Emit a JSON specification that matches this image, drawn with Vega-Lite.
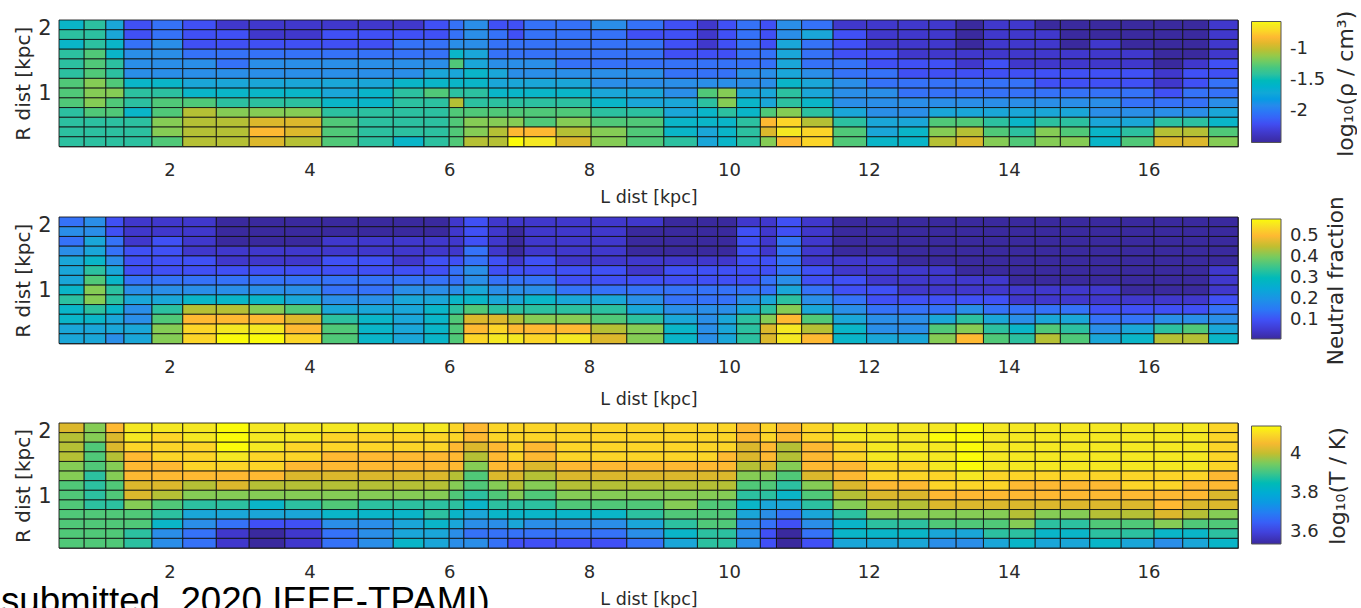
{"$schema":"https://vega.github.io/schema/vega-lite/v6.json","padding":{"left":0,"top":9,"right":0,"bottom":0},"background":"white","spacing":-12,"resolve":{"scale":{"color":"independent"},"legend":{"color":"independent"}},"config":{"view":{"stroke":"#555","strokeWidth":1},"font":"DejaVu Sans","axis":{"grid":false,"domain":false,"ticks":false,"labelColor":"#2a2a2a","titleColor":"#2a2a2a","titleFontWeight":"normal","labelFont":"DejaVu Sans","titleFont":"DejaVu Sans"},"legend":{"labelColor":"#2a2a2a","labelFont":"DejaVu Sans"}},"datasets":{"cols":[{"c":0,"l0":0.42,"l1":0.78},{"c":1,"l0":0.78,"l1":1.09},{"c":2,"l0":1.09,"l1":1.35},{"c":3,"l0":1.35,"l1":1.75},{"c":4,"l0":1.75,"l1":2.19},{"c":5,"l0":2.19,"l1":2.67},{"c":6,"l0":2.67,"l1":3.14},{"c":7,"l0":3.14,"l1":3.65},{"c":8,"l0":3.65,"l1":4.18},{"c":9,"l0":4.18,"l1":4.7},{"c":10,"l0":4.7,"l1":5.2},{"c":11,"l0":5.2,"l1":5.64},{"c":12,"l0":5.64,"l1":6},{"c":13,"l0":6,"l1":6.21},{"c":14,"l0":6.21,"l1":6.56},{"c":15,"l0":6.56,"l1":6.84},{"c":16,"l0":6.84,"l1":7.07},{"c":17,"l0":7.07,"l1":7.53},{"c":18,"l0":7.53,"l1":8.03},{"c":19,"l0":8.03,"l1":8.54},{"c":20,"l0":8.54,"l1":9.07},{"c":21,"l0":9.07,"l1":9.55},{"c":22,"l0":9.55,"l1":9.84},{"c":23,"l0":9.84,"l1":10.11},{"c":24,"l0":10.11,"l1":10.45},{"c":25,"l0":10.45,"l1":10.68},{"c":26,"l0":10.68,"l1":11.04},{"c":27,"l0":11.04,"l1":11.49},{"c":28,"l0":11.49,"l1":11.97},{"c":29,"l0":11.97,"l1":12.42},{"c":30,"l0":12.42,"l1":12.86},{"c":31,"l0":12.86,"l1":13.25},{"c":32,"l0":13.25,"l1":13.64},{"c":33,"l0":13.64,"l1":14.01},{"c":34,"l0":14.01,"l1":14.38},{"c":35,"l0":14.38,"l1":14.74},{"c":36,"l0":14.74,"l1":15.16},{"c":37,"l0":15.16,"l1":15.61},{"c":38,"l0":15.61,"l1":16.08},{"c":39,"l0":16.08,"l1":16.49},{"c":40,"l0":16.49,"l1":16.86},{"c":41,"l0":16.86,"l1":17.28}],"rows":[{"r":0,"r0":0.15,"r1":0.3},{"r":1,"r0":0.3,"r1":0.45},{"r":2,"r0":0.45,"r1":0.6},{"r":3,"r0":0.6,"r1":0.75},{"r":4,"r0":0.75,"r1":0.9},{"r":5,"r0":0.9,"r1":1.05},{"r":6,"r0":1.05,"r1":1.2},{"r":7,"r0":1.2,"r1":1.35},{"r":8,"r0":1.35,"r1":1.5},{"r":9,"r0":1.5,"r1":1.65},{"r":10,"r0":1.65,"r1":1.8},{"r":11,"r0":1.8,"r1":1.95},{"r":12,"r0":1.95,"r1":2.1}],"cells":[
{"c":0,"r":12,"a":-1.56,"b":0.14,"t":4.02},{"c":1,"r":12,"a":-1.41,"b":0.19,"t":3.96},{"c":2,"r":12,"a":-1.72,"b":0.1,"t":4.06},{"c":3,"r":12,"a":-2.19,"b":0.05,"t":4.12},{"c":4,"r":12,"a":-2.03,"b":0.05,"t":4.12},{"c":5,"r":12,"a":-2.19,"b":0.05,"t":4.12},{"c":6,"r":12,"a":-2.34,"b":0.01,"t":4.14},{"c":7,"r":12,"a":-2.34,"b":0.01,"t":4.12},{"c":8,"r":12,"a":-2.34,"b":0.01,"t":4.12},{"c":9,"r":12,"a":-2.34,"b":0.01,"t":4.12},{"c":10,"r":12,"a":-2.34,"b":0.01,"t":4.12},{"c":11,"r":12,"a":-2.34,"b":0.01,"t":4.12},{"c":12,"r":12,"a":-2.19,"b":0.01,"t":4.12},{"c":13,"r":12,"a":-2.03,"b":0.05,"t":4.09},{"c":14,"r":12,"a":-1.88,"b":0.1,"t":4.06},{"c":15,"r":12,"a":-2.19,"b":0.05,"t":4.09},{"c":16,"r":12,"a":-2.19,"b":0.05,"t":4.09},{"c":17,"r":12,"a":-2.03,"b":0.05,"t":4.09},{"c":18,"r":12,"a":-2.03,"b":0.05,"t":4.09},{"c":19,"r":12,"a":-1.88,"b":0.05,"t":4.09},{"c":20,"r":12,"a":-2.03,"b":0.05,"t":4.09},{"c":21,"r":12,"a":-2.19,"b":0.01,"t":4.09},{"c":22,"r":12,"a":-2.34,"b":0.01,"t":4.09},{"c":23,"r":12,"a":-2.19,"b":0.01,"t":4.09},{"c":24,"r":12,"a":-2.03,"b":0.05,"t":4.06},{"c":25,"r":12,"a":-2.19,"b":0.05,"t":4.09},{"c":26,"r":12,"a":-1.88,"b":0.1,"t":4.06},{"c":27,"r":12,"a":-2.03,"b":0.05,"t":4.09},{"c":28,"r":12,"a":-2.34,"b":0.01,"t":4.12},{"c":29,"r":12,"a":-2.34,"b":0.01,"t":4.12},{"c":30,"r":12,"a":-2.34,"b":0.01,"t":4.12},{"c":31,"r":12,"a":-2.34,"b":0.01,"t":4.12},{"c":32,"r":12,"a":-2.5,"b":0.01,"t":4.14},{"c":33,"r":12,"a":-2.34,"b":0.01,"t":4.12},{"c":34,"r":12,"a":-2.34,"b":0.01,"t":4.12},{"c":35,"r":12,"a":-2.5,"b":0.01,"t":4.12},{"c":36,"r":12,"a":-2.5,"b":0.01,"t":4.12},{"c":37,"r":12,"a":-2.5,"b":0.01,"t":4.12},{"c":38,"r":12,"a":-2.5,"b":0.01,"t":4.12},{"c":39,"r":12,"a":-2.5,"b":0.01,"t":4.12},{"c":40,"r":12,"a":-2.5,"b":0.01,"t":4.12},{"c":41,"r":12,"a":-2.34,"b":0.01,"t":4.09},
{"c":0,"r":11,"a":-1.41,"b":0.19,"t":3.99},{"c":1,"r":11,"a":-1.41,"b":0.19,"t":3.96},{"c":2,"r":11,"a":-1.72,"b":0.1,"t":4.02},{"c":3,"r":11,"a":-2.19,"b":0.05,"t":4.12},{"c":4,"r":11,"a":-2.03,"b":0.05,"t":4.09},{"c":5,"r":11,"a":-2.19,"b":0.05,"t":4.12},{"c":6,"r":11,"a":-2.19,"b":0.01,"t":4.14},{"c":7,"r":11,"a":-2.34,"b":0.01,"t":4.12},{"c":8,"r":11,"a":-2.34,"b":0.01,"t":4.12},{"c":9,"r":11,"a":-2.19,"b":0.01,"t":4.09},{"c":10,"r":11,"a":-2.19,"b":0.01,"t":4.09},{"c":11,"r":11,"a":-2.19,"b":0.01,"t":4.09},{"c":12,"r":11,"a":-2.19,"b":0.01,"t":4.09},{"c":13,"r":11,"a":-2.03,"b":0.05,"t":4.09},{"c":14,"r":11,"a":-1.88,"b":0.1,"t":4.06},{"c":15,"r":11,"a":-2.03,"b":0.05,"t":4.09},{"c":16,"r":11,"a":-2.19,"b":0.01,"t":4.09},{"c":17,"r":11,"a":-2.03,"b":0.05,"t":4.09},{"c":18,"r":11,"a":-2.03,"b":0.05,"t":4.09},{"c":19,"r":11,"a":-2.03,"b":0.05,"t":4.09},{"c":20,"r":11,"a":-2.19,"b":0.01,"t":4.09},{"c":21,"r":11,"a":-2.19,"b":0.01,"t":4.09},{"c":22,"r":11,"a":-2.34,"b":0.01,"t":4.09},{"c":23,"r":11,"a":-2.19,"b":0.01,"t":4.09},{"c":24,"r":11,"a":-2.03,"b":0.1,"t":4.06},{"c":25,"r":11,"a":-2.19,"b":0.05,"t":4.09},{"c":26,"r":11,"a":-1.88,"b":0.1,"t":4.06},{"c":27,"r":11,"a":-1.72,"b":0.05,"t":4.09},{"c":28,"r":11,"a":-2.19,"b":0.01,"t":4.12},{"c":29,"r":11,"a":-2.34,"b":0.01,"t":4.12},{"c":30,"r":11,"a":-2.34,"b":0.01,"t":4.12},{"c":31,"r":11,"a":-2.34,"b":0.01,"t":4.14},{"c":32,"r":11,"a":-2.5,"b":0.01,"t":4.14},{"c":33,"r":11,"a":-2.34,"b":0.01,"t":4.12},{"c":34,"r":11,"a":-2.34,"b":0.01,"t":4.12},{"c":35,"r":11,"a":-2.34,"b":0.01,"t":4.12},{"c":36,"r":11,"a":-2.5,"b":0.01,"t":4.12},{"c":37,"r":11,"a":-2.5,"b":0.01,"t":4.12},{"c":38,"r":11,"a":-2.5,"b":0.01,"t":4.12},{"c":39,"r":11,"a":-2.5,"b":0.01,"t":4.12},{"c":40,"r":11,"a":-2.5,"b":0.01,"t":4.12},{"c":41,"r":11,"a":-2.34,"b":0.01,"t":4.09},
{"c":0,"r":10,"a":-1.56,"b":0.14,"t":3.99},{"c":1,"r":10,"a":-1.41,"b":0.24,"t":3.92},{"c":2,"r":10,"a":-1.56,"b":0.14,"t":4.02},{"c":3,"r":10,"a":-2.03,"b":0.05,"t":4.09},{"c":4,"r":10,"a":-1.88,"b":0.1,"t":4.09},{"c":5,"r":10,"a":-2.19,"b":0.05,"t":4.09},{"c":6,"r":10,"a":-2.19,"b":0.01,"t":4.14},{"c":7,"r":10,"a":-2.19,"b":0.01,"t":4.12},{"c":8,"r":10,"a":-2.19,"b":0.01,"t":4.09},{"c":9,"r":10,"a":-2.19,"b":0.05,"t":4.09},{"c":10,"r":10,"a":-2.19,"b":0.05,"t":4.09},{"c":11,"r":10,"a":-2.03,"b":0.05,"t":4.09},{"c":12,"r":10,"a":-2.03,"b":0.05,"t":4.09},{"c":13,"r":10,"a":-1.88,"b":0.05,"t":4.06},{"c":14,"r":10,"a":-1.88,"b":0.1,"t":4.02},{"c":15,"r":10,"a":-2.03,"b":0.05,"t":4.06},{"c":16,"r":10,"a":-2.03,"b":0.01,"t":4.09},{"c":17,"r":10,"a":-2.03,"b":0.05,"t":4.06},{"c":18,"r":10,"a":-2.03,"b":0.05,"t":4.09},{"c":19,"r":10,"a":-2.03,"b":0.05,"t":4.09},{"c":20,"r":10,"a":-2.03,"b":0.01,"t":4.09},{"c":21,"r":10,"a":-2.19,"b":0.01,"t":4.09},{"c":22,"r":10,"a":-2.34,"b":0.01,"t":4.09},{"c":23,"r":10,"a":-2.19,"b":0.01,"t":4.09},{"c":24,"r":10,"a":-2.03,"b":0.1,"t":4.02},{"c":25,"r":10,"a":-2.19,"b":0.05,"t":4.06},{"c":26,"r":10,"a":-1.72,"b":0.14,"t":3.99},{"c":27,"r":10,"a":-2.03,"b":0.05,"t":4.06},{"c":28,"r":10,"a":-2.19,"b":0.01,"t":4.09},{"c":29,"r":10,"a":-2.34,"b":0.01,"t":4.12},{"c":30,"r":10,"a":-2.34,"b":0.01,"t":4.12},{"c":31,"r":10,"a":-2.34,"b":0.01,"t":4.12},{"c":32,"r":10,"a":-2.5,"b":0.01,"t":4.14},{"c":33,"r":10,"a":-2.34,"b":0.01,"t":4.12},{"c":34,"r":10,"a":-2.34,"b":0.01,"t":4.12},{"c":35,"r":10,"a":-2.34,"b":0.01,"t":4.12},{"c":36,"r":10,"a":-2.5,"b":0.01,"t":4.12},{"c":37,"r":10,"a":-2.34,"b":0.01,"t":4.12},{"c":38,"r":10,"a":-2.5,"b":0.01,"t":4.12},{"c":39,"r":10,"a":-2.5,"b":0.01,"t":4.12},{"c":40,"r":10,"a":-2.5,"b":0.01,"t":4.12},{"c":41,"r":10,"a":-2.34,"b":0.01,"t":4.09},
{"c":0,"r":9,"a":-1.41,"b":0.19,"t":3.99},{"c":1,"r":9,"a":-1.27,"b":0.24,"t":3.92},{"c":2,"r":9,"a":-1.56,"b":0.14,"t":3.99},{"c":3,"r":9,"a":-1.88,"b":0.1,"t":4.06},{"c":4,"r":9,"a":-1.88,"b":0.1,"t":4.09},{"c":5,"r":9,"a":-2.03,"b":0.05,"t":4.09},{"c":6,"r":9,"a":-2.03,"b":0.05,"t":4.12},{"c":7,"r":9,"a":-2.03,"b":0.05,"t":4.09},{"c":8,"r":9,"a":-2.03,"b":0.05,"t":4.09},{"c":9,"r":9,"a":-2.03,"b":0.05,"t":4.06},{"c":10,"r":9,"a":-2.03,"b":0.05,"t":4.06},{"c":11,"r":9,"a":-2.03,"b":0.05,"t":4.06},{"c":12,"r":9,"a":-2.03,"b":0.05,"t":4.06},{"c":13,"r":9,"a":-1.56,"b":0.05,"t":4.06},{"c":14,"r":9,"a":-1.72,"b":0.14,"t":3.99},{"c":15,"r":9,"a":-2.03,"b":0.05,"t":4.06},{"c":16,"r":9,"a":-2.03,"b":0.01,"t":4.09},{"c":17,"r":9,"a":-2.03,"b":0.05,"t":4.06},{"c":18,"r":9,"a":-2.03,"b":0.05,"t":4.09},{"c":19,"r":9,"a":-2.03,"b":0.05,"t":4.09},{"c":20,"r":9,"a":-2.03,"b":0.01,"t":4.09},{"c":21,"r":9,"a":-2.19,"b":0.01,"t":4.09},{"c":22,"r":9,"a":-2.19,"b":0.01,"t":4.09},{"c":23,"r":9,"a":-2.19,"b":0.01,"t":4.06},{"c":24,"r":9,"a":-2.03,"b":0.1,"t":4.02},{"c":25,"r":9,"a":-2.03,"b":0.05,"t":4.06},{"c":26,"r":9,"a":-1.72,"b":0.14,"t":3.99},{"c":27,"r":9,"a":-2.03,"b":0.05,"t":4.06},{"c":28,"r":9,"a":-2.19,"b":0.01,"t":4.09},{"c":29,"r":9,"a":-2.19,"b":0.01,"t":4.12},{"c":30,"r":9,"a":-2.34,"b":0.01,"t":4.12},{"c":31,"r":9,"a":-2.34,"b":0.01,"t":4.12},{"c":32,"r":9,"a":-2.34,"b":0.01,"t":4.14},{"c":33,"r":9,"a":-2.34,"b":0.01,"t":4.12},{"c":34,"r":9,"a":-2.34,"b":0.01,"t":4.12},{"c":35,"r":9,"a":-2.34,"b":0.01,"t":4.12},{"c":36,"r":9,"a":-2.34,"b":0.01,"t":4.12},{"c":37,"r":9,"a":-2.34,"b":0.01,"t":4.12},{"c":38,"r":9,"a":-2.34,"b":0.01,"t":4.12},{"c":39,"r":9,"a":-2.5,"b":0.01,"t":4.12},{"c":40,"r":9,"a":-2.5,"b":0.01,"t":4.12},{"c":41,"r":9,"a":-2.34,"b":0.01,"t":4.09},
{"c":0,"r":8,"a":-1.41,"b":0.24,"t":3.96},{"c":1,"r":8,"a":-1.27,"b":0.28,"t":3.92},{"c":2,"r":8,"a":-1.41,"b":0.19,"t":3.96},{"c":3,"r":8,"a":-1.88,"b":0.1,"t":4.06},{"c":4,"r":8,"a":-1.88,"b":0.1,"t":4.06},{"c":5,"r":8,"a":-1.88,"b":0.1,"t":4.09},{"c":6,"r":8,"a":-2.03,"b":0.05,"t":4.09},{"c":7,"r":8,"a":-1.88,"b":0.05,"t":4.09},{"c":8,"r":8,"a":-1.88,"b":0.05,"t":4.06},{"c":9,"r":8,"a":-1.88,"b":0.1,"t":4.06},{"c":10,"r":8,"a":-1.88,"b":0.1,"t":4.06},{"c":11,"r":8,"a":-1.88,"b":0.05,"t":4.06},{"c":12,"r":8,"a":-1.88,"b":0.1,"t":4.06},{"c":13,"r":8,"a":-1.27,"b":0.1,"t":4.06},{"c":14,"r":8,"a":-1.72,"b":0.14,"t":3.96},{"c":15,"r":8,"a":-1.88,"b":0.1,"t":4.06},{"c":16,"r":8,"a":-1.88,"b":0.05,"t":4.06},{"c":17,"r":8,"a":-1.88,"b":0.1,"t":4.02},{"c":18,"r":8,"a":-2.03,"b":0.05,"t":4.06},{"c":19,"r":8,"a":-2.03,"b":0.05,"t":4.06},{"c":20,"r":8,"a":-2.03,"b":0.05,"t":4.06},{"c":21,"r":8,"a":-2.03,"b":0.05,"t":4.06},{"c":22,"r":8,"a":-2.03,"b":0.05,"t":4.06},{"c":23,"r":8,"a":-2.03,"b":0.05,"t":4.06},{"c":24,"r":8,"a":-2.03,"b":0.1,"t":3.99},{"c":25,"r":8,"a":-2.03,"b":0.1,"t":4.02},{"c":26,"r":8,"a":-1.72,"b":0.14,"t":3.96},{"c":27,"r":8,"a":-2.03,"b":0.05,"t":4.06},{"c":28,"r":8,"a":-2.03,"b":0.05,"t":4.06},{"c":29,"r":8,"a":-2.19,"b":0.05,"t":4.09},{"c":30,"r":8,"a":-2.19,"b":0.01,"t":4.09},{"c":31,"r":8,"a":-2.19,"b":0.01,"t":4.12},{"c":32,"r":8,"a":-2.34,"b":0.01,"t":4.14},{"c":33,"r":8,"a":-2.19,"b":0.01,"t":4.12},{"c":34,"r":8,"a":-2.34,"b":0.01,"t":4.12},{"c":35,"r":8,"a":-2.34,"b":0.01,"t":4.12},{"c":36,"r":8,"a":-2.34,"b":0.01,"t":4.12},{"c":37,"r":8,"a":-2.34,"b":0.01,"t":4.12},{"c":38,"r":8,"a":-2.34,"b":0.01,"t":4.12},{"c":39,"r":8,"a":-2.5,"b":0.01,"t":4.12},{"c":40,"r":8,"a":-2.34,"b":0.01,"t":4.12},{"c":41,"r":8,"a":-2.19,"b":0.01,"t":4.09},
{"c":0,"r":7,"a":-1.41,"b":0.24,"t":3.96},{"c":1,"r":7,"a":-1.27,"b":0.33,"t":3.87},{"c":2,"r":7,"a":-1.41,"b":0.24,"t":3.96},{"c":3,"r":7,"a":-1.88,"b":0.1,"t":4.06},{"c":4,"r":7,"a":-1.88,"b":0.1,"t":4.06},{"c":5,"r":7,"a":-1.88,"b":0.1,"t":4.06},{"c":6,"r":7,"a":-1.88,"b":0.1,"t":4.06},{"c":7,"r":7,"a":-1.88,"b":0.1,"t":4.06},{"c":8,"r":7,"a":-1.88,"b":0.1,"t":4.02},{"c":9,"r":7,"a":-1.88,"b":0.1,"t":4.02},{"c":10,"r":7,"a":-1.88,"b":0.1,"t":4.02},{"c":11,"r":7,"a":-1.88,"b":0.1,"t":4.02},{"c":12,"r":7,"a":-1.72,"b":0.1,"t":4.02},{"c":13,"r":7,"a":-1.72,"b":0.14,"t":3.99},{"c":14,"r":7,"a":-1.56,"b":0.19,"t":3.92},{"c":15,"r":7,"a":-1.72,"b":0.1,"t":4.02},{"c":16,"r":7,"a":-1.88,"b":0.1,"t":4.02},{"c":17,"r":7,"a":-1.88,"b":0.1,"t":3.99},{"c":18,"r":7,"a":-1.88,"b":0.1,"t":4.02},{"c":19,"r":7,"a":-1.88,"b":0.1,"t":4.02},{"c":20,"r":7,"a":-1.88,"b":0.05,"t":4.02},{"c":21,"r":7,"a":-2.03,"b":0.1,"t":4.02},{"c":22,"r":7,"a":-2.03,"b":0.1,"t":4.02},{"c":23,"r":7,"a":-2.03,"b":0.1,"t":4.02},{"c":24,"r":7,"a":-1.88,"b":0.1,"t":3.96},{"c":25,"r":7,"a":-1.88,"b":0.1,"t":3.96},{"c":26,"r":7,"a":-1.72,"b":0.14,"t":3.92},{"c":27,"r":7,"a":-1.88,"b":0.1,"t":4.02},{"c":28,"r":7,"a":-2.03,"b":0.05,"t":4.06},{"c":29,"r":7,"a":-2.03,"b":0.05,"t":4.09},{"c":30,"r":7,"a":-2.19,"b":0.05,"t":4.09},{"c":31,"r":7,"a":-2.19,"b":0.05,"t":4.09},{"c":32,"r":7,"a":-2.19,"b":0.01,"t":4.12},{"c":33,"r":7,"a":-2.19,"b":0.01,"t":4.09},{"c":34,"r":7,"a":-2.19,"b":0.01,"t":4.09},{"c":35,"r":7,"a":-2.19,"b":0.01,"t":4.09},{"c":36,"r":7,"a":-2.19,"b":0.01,"t":4.09},{"c":37,"r":7,"a":-2.19,"b":0.01,"t":4.09},{"c":38,"r":7,"a":-2.19,"b":0.01,"t":4.09},{"c":39,"r":7,"a":-2.34,"b":0.01,"t":4.09},{"c":40,"r":7,"a":-2.19,"b":0.01,"t":4.09},{"c":41,"r":7,"a":-2.19,"b":0.05,"t":4.06},
{"c":0,"r":6,"a":-1.27,"b":0.24,"t":3.92},{"c":1,"r":6,"a":-1.14,"b":0.37,"t":3.87},{"c":2,"r":6,"a":-1.27,"b":0.28,"t":3.92},{"c":3,"r":6,"a":-1.56,"b":0.14,"t":4.02},{"c":4,"r":6,"a":-1.56,"b":0.14,"t":4.02},{"c":5,"r":6,"a":-1.72,"b":0.14,"t":3.99},{"c":6,"r":6,"a":-1.72,"b":0.14,"t":4.02},{"c":7,"r":6,"a":-1.72,"b":0.14,"t":3.99},{"c":8,"r":6,"a":-1.72,"b":0.14,"t":3.99},{"c":9,"r":6,"a":-1.72,"b":0.14,"t":3.99},{"c":10,"r":6,"a":-1.72,"b":0.14,"t":3.99},{"c":11,"r":6,"a":-1.56,"b":0.14,"t":3.99},{"c":12,"r":6,"a":-1.56,"b":0.14,"t":3.99},{"c":13,"r":6,"a":-1.56,"b":0.14,"t":3.96},{"c":14,"r":6,"a":-1.56,"b":0.19,"t":3.92},{"c":15,"r":6,"a":-1.72,"b":0.14,"t":3.96},{"c":16,"r":6,"a":-1.72,"b":0.14,"t":3.99},{"c":17,"r":6,"a":-1.72,"b":0.14,"t":3.96},{"c":18,"r":6,"a":-1.72,"b":0.1,"t":3.99},{"c":19,"r":6,"a":-1.88,"b":0.1,"t":3.99},{"c":20,"r":6,"a":-1.88,"b":0.1,"t":3.99},{"c":21,"r":6,"a":-1.88,"b":0.1,"t":3.99},{"c":22,"r":6,"a":-1.88,"b":0.1,"t":3.99},{"c":23,"r":6,"a":-1.88,"b":0.1,"t":3.99},{"c":24,"r":6,"a":-1.88,"b":0.1,"t":3.92},{"c":25,"r":6,"a":-1.88,"b":0.14,"t":3.92},{"c":26,"r":6,"a":-1.56,"b":0.19,"t":3.87},{"c":27,"r":6,"a":-1.72,"b":0.1,"t":3.96},{"c":28,"r":6,"a":-1.88,"b":0.1,"t":4.02},{"c":29,"r":6,"a":-2.03,"b":0.05,"t":4.06},{"c":30,"r":6,"a":-2.03,"b":0.05,"t":4.06},{"c":31,"r":6,"a":-2.03,"b":0.05,"t":4.09},{"c":32,"r":6,"a":-2.03,"b":0.05,"t":4.09},{"c":33,"r":6,"a":-2.03,"b":0.05,"t":4.09},{"c":34,"r":6,"a":-2.03,"b":0.01,"t":4.06},{"c":35,"r":6,"a":-2.19,"b":0.01,"t":4.06},{"c":36,"r":6,"a":-2.19,"b":0.01,"t":4.06},{"c":37,"r":6,"a":-2.19,"b":0.01,"t":4.06},{"c":38,"r":6,"a":-2.19,"b":0.01,"t":4.09},{"c":39,"r":6,"a":-2.34,"b":0.01,"t":4.09},{"c":40,"r":6,"a":-2.19,"b":0.01,"t":4.06},{"c":41,"r":6,"a":-2.03,"b":0.05,"t":4.06},
{"c":0,"r":5,"a":-1.27,"b":0.28,"t":3.92},{"c":1,"r":5,"a":-1.14,"b":0.41,"t":3.87},{"c":2,"r":5,"a":-1.14,"b":0.33,"t":3.92},{"c":3,"r":5,"a":-1.41,"b":0.19,"t":4.02},{"c":4,"r":5,"a":-1.41,"b":0.19,"t":3.99},{"c":5,"r":5,"a":-1.56,"b":0.19,"t":3.96},{"c":6,"r":5,"a":-1.56,"b":0.19,"t":3.96},{"c":7,"r":5,"a":-1.56,"b":0.19,"t":3.96},{"c":8,"r":5,"a":-1.56,"b":0.19,"t":3.96},{"c":9,"r":5,"a":-1.72,"b":0.14,"t":3.96},{"c":10,"r":5,"a":-1.56,"b":0.14,"t":3.96},{"c":11,"r":5,"a":-1.41,"b":0.19,"t":3.96},{"c":12,"r":5,"a":-1.27,"b":0.19,"t":3.96},{"c":13,"r":5,"a":-1.41,"b":0.19,"t":3.92},{"c":14,"r":5,"a":-1.41,"b":0.24,"t":3.87},{"c":15,"r":5,"a":-1.56,"b":0.19,"t":3.92},{"c":16,"r":5,"a":-1.56,"b":0.19,"t":3.96},{"c":17,"r":5,"a":-1.56,"b":0.19,"t":3.92},{"c":18,"r":5,"a":-1.56,"b":0.14,"t":3.96},{"c":19,"r":5,"a":-1.72,"b":0.14,"t":3.96},{"c":20,"r":5,"a":-1.72,"b":0.14,"t":3.96},{"c":21,"r":5,"a":-1.88,"b":0.14,"t":3.96},{"c":22,"r":5,"a":-1.27,"b":0.14,"t":3.96},{"c":23,"r":5,"a":-1.14,"b":0.14,"t":3.96},{"c":24,"r":5,"a":-1.72,"b":0.14,"t":3.87},{"c":25,"r":5,"a":-1.72,"b":0.14,"t":3.87},{"c":26,"r":5,"a":-1.41,"b":0.24,"t":3.83},{"c":27,"r":5,"a":-1.72,"b":0.14,"t":3.92},{"c":28,"r":5,"a":-1.88,"b":0.1,"t":3.99},{"c":29,"r":5,"a":-1.88,"b":0.1,"t":4.02},{"c":30,"r":5,"a":-2.03,"b":0.05,"t":4.02},{"c":31,"r":5,"a":-2.03,"b":0.05,"t":4.06},{"c":32,"r":5,"a":-2.03,"b":0.05,"t":4.06},{"c":33,"r":5,"a":-2.03,"b":0.05,"t":4.06},{"c":34,"r":5,"a":-2.03,"b":0.05,"t":4.06},{"c":35,"r":5,"a":-2.03,"b":0.05,"t":4.06},{"c":36,"r":5,"a":-2.03,"b":0.05,"t":4.06},{"c":37,"r":5,"a":-2.03,"b":0.05,"t":4.06},{"c":38,"r":5,"a":-2.03,"b":0.01,"t":4.06},{"c":39,"r":5,"a":-2.19,"b":0.01,"t":4.06},{"c":40,"r":5,"a":-2.03,"b":0.01,"t":4.06},{"c":41,"r":5,"a":-2.03,"b":0.05,"t":4.02},
{"c":0,"r":4,"a":-1.27,"b":0.33,"t":3.92},{"c":1,"r":4,"a":-1.14,"b":0.41,"t":3.87},{"c":2,"r":4,"a":-1.27,"b":0.33,"t":3.87},{"c":3,"r":4,"a":-1.41,"b":0.24,"t":3.96},{"c":4,"r":4,"a":-1.27,"b":0.24,"t":3.92},{"c":5,"r":4,"a":-1.27,"b":0.28,"t":3.87},{"c":6,"r":4,"a":-1.41,"b":0.28,"t":3.87},{"c":7,"r":4,"a":-1.41,"b":0.28,"t":3.83},{"c":8,"r":4,"a":-1.41,"b":0.24,"t":3.87},{"c":9,"r":4,"a":-1.56,"b":0.19,"t":3.92},{"c":10,"r":4,"a":-1.56,"b":0.19,"t":3.87},{"c":11,"r":4,"a":-1.41,"b":0.24,"t":3.87},{"c":12,"r":4,"a":-1.41,"b":0.24,"t":3.87},{"c":13,"r":4,"a":-1.02,"b":0.28,"t":3.87},{"c":14,"r":4,"a":-1.41,"b":0.28,"t":3.83},{"c":15,"r":4,"a":-1.41,"b":0.24,"t":3.87},{"c":16,"r":4,"a":-1.41,"b":0.24,"t":3.87},{"c":17,"r":4,"a":-1.41,"b":0.28,"t":3.87},{"c":18,"r":4,"a":-1.41,"b":0.24,"t":3.92},{"c":19,"r":4,"a":-1.56,"b":0.24,"t":3.92},{"c":20,"r":4,"a":-1.72,"b":0.19,"t":3.92},{"c":21,"r":4,"a":-1.72,"b":0.14,"t":3.96},{"c":22,"r":4,"a":-1.41,"b":0.14,"t":3.92},{"c":23,"r":4,"a":-1.14,"b":0.14,"t":3.92},{"c":24,"r":4,"a":-1.56,"b":0.19,"t":3.83},{"c":25,"r":4,"a":-1.72,"b":0.24,"t":3.78},{"c":26,"r":4,"a":-1.41,"b":0.33,"t":3.78},{"c":27,"r":4,"a":-1.56,"b":0.19,"t":3.87},{"c":28,"r":4,"a":-1.88,"b":0.14,"t":3.96},{"c":29,"r":4,"a":-1.88,"b":0.1,"t":3.99},{"c":30,"r":4,"a":-1.88,"b":0.1,"t":3.99},{"c":31,"r":4,"a":-1.88,"b":0.1,"t":4.02},{"c":32,"r":4,"a":-1.88,"b":0.1,"t":4.02},{"c":33,"r":4,"a":-1.88,"b":0.1,"t":4.02},{"c":34,"r":4,"a":-1.88,"b":0.05,"t":4.02},{"c":35,"r":4,"a":-1.88,"b":0.05,"t":4.02},{"c":36,"r":4,"a":-1.88,"b":0.05,"t":4.02},{"c":37,"r":4,"a":-1.88,"b":0.05,"t":4.02},{"c":38,"r":4,"a":-2.03,"b":0.05,"t":4.02},{"c":39,"r":4,"a":-2.03,"b":0.05,"t":4.06},{"c":40,"r":4,"a":-2.03,"b":0.05,"t":4.02},{"c":41,"r":4,"a":-1.88,"b":0.1,"t":4.02},
{"c":0,"r":3,"a":-1.41,"b":0.28,"t":3.92},{"c":1,"r":3,"a":-1.27,"b":0.33,"t":3.92},{"c":2,"r":3,"a":-1.27,"b":0.28,"t":3.92},{"c":3,"r":3,"a":-1.56,"b":0.19,"t":3.92},{"c":4,"r":3,"a":-1.27,"b":0.33,"t":3.87},{"c":5,"r":3,"a":-1.02,"b":0.44,"t":3.78},{"c":6,"r":3,"a":-1.14,"b":0.44,"t":3.78},{"c":7,"r":3,"a":-1.14,"b":0.41,"t":3.78},{"c":8,"r":3,"a":-1.14,"b":0.37,"t":3.78},{"c":9,"r":3,"a":-1.41,"b":0.24,"t":3.83},{"c":10,"r":3,"a":-1.41,"b":0.24,"t":3.83},{"c":11,"r":3,"a":-1.41,"b":0.24,"t":3.83},{"c":12,"r":3,"a":-1.41,"b":0.28,"t":3.87},{"c":13,"r":3,"a":-1.27,"b":0.33,"t":3.83},{"c":14,"r":3,"a":-1.27,"b":0.37,"t":3.78},{"c":15,"r":3,"a":-1.27,"b":0.33,"t":3.83},{"c":16,"r":3,"a":-1.27,"b":0.33,"t":3.83},{"c":17,"r":3,"a":-1.27,"b":0.33,"t":3.83},{"c":18,"r":3,"a":-1.27,"b":0.33,"t":3.83},{"c":19,"r":3,"a":-1.41,"b":0.33,"t":3.83},{"c":20,"r":3,"a":-1.41,"b":0.24,"t":3.87},{"c":21,"r":3,"a":-1.72,"b":0.19,"t":3.92},{"c":22,"r":3,"a":-1.56,"b":0.19,"t":3.92},{"c":23,"r":3,"a":-1.41,"b":0.19,"t":3.92},{"c":24,"r":3,"a":-1.56,"b":0.24,"t":3.78},{"c":25,"r":3,"a":-1.27,"b":0.33,"t":3.73},{"c":26,"r":3,"a":-1.14,"b":0.41,"t":3.68},{"c":27,"r":3,"a":-1.41,"b":0.24,"t":3.78},{"c":28,"r":3,"a":-1.72,"b":0.19,"t":3.87},{"c":29,"r":3,"a":-1.88,"b":0.14,"t":3.96},{"c":30,"r":3,"a":-1.88,"b":0.14,"t":3.96},{"c":31,"r":3,"a":-1.72,"b":0.14,"t":3.96},{"c":32,"r":3,"a":-1.72,"b":0.19,"t":3.96},{"c":33,"r":3,"a":-1.72,"b":0.14,"t":3.96},{"c":34,"r":3,"a":-1.72,"b":0.14,"t":3.99},{"c":35,"r":3,"a":-1.72,"b":0.14,"t":3.96},{"c":36,"r":3,"a":-1.72,"b":0.14,"t":3.96},{"c":37,"r":3,"a":-1.88,"b":0.1,"t":3.99},{"c":38,"r":3,"a":-1.88,"b":0.1,"t":3.99},{"c":39,"r":3,"a":-1.88,"b":0.1,"t":4.02},{"c":40,"r":3,"a":-1.88,"b":0.1,"t":3.99},{"c":41,"r":3,"a":-1.72,"b":0.14,"t":3.96},
{"c":0,"r":2,"a":-1.41,"b":0.28,"t":3.92},{"c":1,"r":2,"a":-1.41,"b":0.28,"t":3.92},{"c":2,"r":2,"a":-1.41,"b":0.24,"t":3.92},{"c":3,"r":2,"a":-1.41,"b":0.19,"t":3.92},{"c":4,"r":2,"a":-1.14,"b":0.37,"t":3.83},{"c":5,"r":2,"a":-1.02,"b":0.5,"t":3.73},{"c":6,"r":2,"a":-1.02,"b":0.5,"t":3.68},{"c":7,"r":2,"a":-0.92,"b":0.5,"t":3.63},{"c":8,"r":2,"a":-0.92,"b":0.47,"t":3.63},{"c":9,"r":2,"a":-1.27,"b":0.33,"t":3.73},{"c":10,"r":2,"a":-1.41,"b":0.28,"t":3.73},{"c":11,"r":2,"a":-1.41,"b":0.24,"t":3.78},{"c":12,"r":2,"a":-1.41,"b":0.28,"t":3.83},{"c":13,"r":2,"a":-1.27,"b":0.37,"t":3.78},{"c":14,"r":2,"a":-1.14,"b":0.47,"t":3.73},{"c":15,"r":2,"a":-1.14,"b":0.47,"t":3.73},{"c":16,"r":2,"a":-1.14,"b":0.44,"t":3.78},{"c":17,"r":2,"a":-1.27,"b":0.41,"t":3.73},{"c":18,"r":2,"a":-1.14,"b":0.41,"t":3.73},{"c":19,"r":2,"a":-1.27,"b":0.37,"t":3.73},{"c":20,"r":2,"a":-1.27,"b":0.33,"t":3.78},{"c":21,"r":2,"a":-1.56,"b":0.24,"t":3.87},{"c":22,"r":2,"a":-1.56,"b":0.19,"t":3.92},{"c":23,"r":2,"a":-1.56,"b":0.24,"t":3.92},{"c":24,"r":2,"a":-1.41,"b":0.33,"t":3.73},{"c":25,"r":2,"a":-0.8,"b":0.41,"t":3.68},{"c":26,"r":2,"a":-0.71,"b":0.5,"t":3.63},{"c":27,"r":2,"a":-1.02,"b":0.37,"t":3.73},{"c":28,"r":2,"a":-1.41,"b":0.24,"t":3.83},{"c":29,"r":2,"a":-1.72,"b":0.19,"t":3.87},{"c":30,"r":2,"a":-1.72,"b":0.19,"t":3.87},{"c":31,"r":2,"a":-1.27,"b":0.24,"t":3.92},{"c":32,"r":2,"a":-1.27,"b":0.33,"t":3.92},{"c":33,"r":2,"a":-1.41,"b":0.24,"t":3.92},{"c":34,"r":2,"a":-1.56,"b":0.19,"t":3.96},{"c":35,"r":2,"a":-1.41,"b":0.24,"t":3.87},{"c":36,"r":2,"a":-1.41,"b":0.24,"t":3.87},{"c":37,"r":2,"a":-1.72,"b":0.14,"t":3.92},{"c":38,"r":2,"a":-1.72,"b":0.14,"t":3.92},{"c":39,"r":2,"a":-1.41,"b":0.19,"t":3.96},{"c":40,"r":2,"a":-1.41,"b":0.19,"t":3.92},{"c":41,"r":2,"a":-1.56,"b":0.19,"t":3.92},
{"c":0,"r":1,"a":-1.41,"b":0.24,"t":3.92},{"c":1,"r":1,"a":-1.41,"b":0.24,"t":3.92},{"c":2,"r":1,"a":-1.41,"b":0.24,"t":3.92},{"c":3,"r":1,"a":-1.41,"b":0.24,"t":3.87},{"c":4,"r":1,"a":-1.14,"b":0.41,"t":3.73},{"c":5,"r":1,"a":-1.02,"b":0.53,"t":3.68},{"c":6,"r":1,"a":-1.02,"b":0.56,"t":3.58},{"c":7,"r":1,"a":-0.8,"b":0.56,"t":3.54},{"c":8,"r":1,"a":-0.92,"b":0.5,"t":3.58},{"c":9,"r":1,"a":-1.27,"b":0.37,"t":3.68},{"c":10,"r":1,"a":-1.41,"b":0.28,"t":3.73},{"c":11,"r":1,"a":-1.41,"b":0.24,"t":3.78},{"c":12,"r":1,"a":-1.41,"b":0.28,"t":3.78},{"c":13,"r":1,"a":-1.27,"b":0.37,"t":3.73},{"c":14,"r":1,"a":-1.14,"b":0.5,"t":3.68},{"c":15,"r":1,"a":-1.02,"b":0.53,"t":3.68},{"c":16,"r":1,"a":-0.8,"b":0.5,"t":3.68},{"c":17,"r":1,"a":-0.8,"b":0.5,"t":3.68},{"c":18,"r":1,"a":-1.02,"b":0.5,"t":3.68},{"c":19,"r":1,"a":-1.14,"b":0.44,"t":3.68},{"c":20,"r":1,"a":-1.27,"b":0.41,"t":3.73},{"c":21,"r":1,"a":-1.56,"b":0.28,"t":3.83},{"c":22,"r":1,"a":-1.72,"b":0.19,"t":3.87},{"c":23,"r":1,"a":-1.56,"b":0.24,"t":3.87},{"c":24,"r":1,"a":-1.41,"b":0.33,"t":3.73},{"c":25,"r":1,"a":-0.92,"b":0.47,"t":3.63},{"c":26,"r":1,"a":-0.61,"b":0.56,"t":3.54},{"c":27,"r":1,"a":-0.71,"b":0.44,"t":3.68},{"c":28,"r":1,"a":-1.27,"b":0.28,"t":3.83},{"c":29,"r":1,"a":-1.72,"b":0.19,"t":3.83},{"c":30,"r":1,"a":-1.56,"b":0.19,"t":3.83},{"c":31,"r":1,"a":-1.14,"b":0.37,"t":3.78},{"c":32,"r":1,"a":-1.02,"b":0.41,"t":3.78},{"c":33,"r":1,"a":-1.27,"b":0.33,"t":3.87},{"c":34,"r":1,"a":-1.41,"b":0.28,"t":3.87},{"c":35,"r":1,"a":-1.14,"b":0.37,"t":3.83},{"c":36,"r":1,"a":-1.27,"b":0.33,"t":3.83},{"c":37,"r":1,"a":-1.56,"b":0.19,"t":3.87},{"c":38,"r":1,"a":-1.41,"b":0.24,"t":3.87},{"c":39,"r":1,"a":-1.02,"b":0.33,"t":3.83},{"c":40,"r":1,"a":-1.02,"b":0.37,"t":3.83},{"c":41,"r":1,"a":-1.27,"b":0.24,"t":3.87},
{"c":0,"r":0,"a":-1.41,"b":0.24,"t":3.92},{"c":1,"r":0,"a":-1.41,"b":0.24,"t":3.92},{"c":2,"r":0,"a":-1.41,"b":0.19,"t":3.92},{"c":3,"r":0,"a":-1.41,"b":0.24,"t":3.87},{"c":4,"r":0,"a":-1.27,"b":0.41,"t":3.73},{"c":5,"r":0,"a":-1.02,"b":0.53,"t":3.68},{"c":6,"r":0,"a":-1.02,"b":0.58,"t":3.58},{"c":7,"r":0,"a":-0.92,"b":0.58,"t":3.54},{"c":8,"r":0,"a":-1.02,"b":0.53,"t":3.58},{"c":9,"r":0,"a":-1.27,"b":0.37,"t":3.68},{"c":10,"r":0,"a":-1.41,"b":0.28,"t":3.73},{"c":11,"r":0,"a":-1.56,"b":0.24,"t":3.83},{"c":12,"r":0,"a":-1.41,"b":0.28,"t":3.78},{"c":13,"r":0,"a":-1.27,"b":0.37,"t":3.73},{"c":14,"r":0,"a":-1.02,"b":0.53,"t":3.73},{"c":15,"r":0,"a":-1.02,"b":0.56,"t":3.68},{"c":16,"r":0,"a":-0.55,"b":0.56,"t":3.63},{"c":17,"r":0,"a":-0.61,"b":0.53,"t":3.63},{"c":18,"r":0,"a":-0.92,"b":0.56,"t":3.63},{"c":19,"r":0,"a":-1.14,"b":0.47,"t":3.63},{"c":20,"r":0,"a":-1.27,"b":0.41,"t":3.68},{"c":21,"r":0,"a":-1.41,"b":0.28,"t":3.78},{"c":22,"r":0,"a":-1.72,"b":0.19,"t":3.87},{"c":23,"r":0,"a":-1.56,"b":0.24,"t":3.87},{"c":24,"r":0,"a":-1.41,"b":0.33,"t":3.73},{"c":25,"r":0,"a":-1.14,"b":0.47,"t":3.63},{"c":26,"r":0,"a":-0.8,"b":0.56,"t":3.54},{"c":27,"r":0,"a":-0.71,"b":0.5,"t":3.63},{"c":28,"r":0,"a":-1.27,"b":0.28,"t":3.78},{"c":29,"r":0,"a":-1.56,"b":0.24,"t":3.78},{"c":30,"r":0,"a":-1.56,"b":0.24,"t":3.78},{"c":31,"r":0,"a":-1.02,"b":0.41,"t":3.73},{"c":32,"r":0,"a":-0.92,"b":0.5,"t":3.73},{"c":33,"r":0,"a":-1.14,"b":0.37,"t":3.78},{"c":34,"r":0,"a":-1.27,"b":0.33,"t":3.83},{"c":35,"r":0,"a":-1.14,"b":0.44,"t":3.78},{"c":36,"r":0,"a":-1.14,"b":0.37,"t":3.78},{"c":37,"r":0,"a":-1.56,"b":0.24,"t":3.83},{"c":38,"r":0,"a":-1.27,"b":0.28,"t":3.78},{"c":39,"r":0,"a":-0.92,"b":0.44,"t":3.73},{"c":40,"r":0,"a":-0.92,"b":0.44,"t":3.78},{"c":41,"r":0,"a":-1.14,"b":0.28,"t":3.83}
]},"data":{"name":"cells"},"transform":[{"lookup":"c","from":{"data":{"name":"cols"},"key":"c","fields":["l0","l1"]}},{"lookup":"r","from":{"data":{"name":"rows"},"key":"r","fields":["r0","r1"]}}],"vconcat":[{"width":1179,"height":126.5,"layer":[{"mark":{"type":"rect","stroke":"#111","strokeWidth":1,"strokeOpacity":0.85},"encoding":{"x":{"field":"l0","type":"quantitative","scale":{"domain":[0.42,17.28],"nice":false,"zero":false},"axis":{"values":[2,4,6,8,10,12,14,16],"labelFontSize":18,"labelPadding":15,"title":"L dist [kpc]","titleFontSize":17.5,"titlePadding":9}},"x2":{"field":"l1"},"y":{"field":"r0","type":"quantitative","scale":{"domain":[0.15,2.1],"nice":false,"zero":false},"axis":{"values":[1,2],"labelFontSize":21,"labelPadding":8,"labelOffset":2.5,"title":"R dist [kpc]","titleFontSize":20,"titlePadding":4,"format":"d"}},"y2":{"field":"r1"},"color":{"field":"a","type":"quantitative","scale":{"domain":[-2.5,-2.34,-2.19,-2.03,-1.88,-1.72,-1.56,-1.41,-1.27,-1.14,-1.02,-0.92,-0.8,-0.71,-0.61,-0.55],"range":["#3a2a9e","#4038cc","#4050f5","#3572f8","#2a8ee8","#1aa6d8","#0ab5c8","#2cc0a0","#50c878","#85cc55","#b5c035","#dcb82c","#feb932","#fcd528","#f5e822","#fbfb0a"]},"legend":{"orient":"none","legendX":1192.5,"legendY":1.5,"title":null,"gradientLength":121,"gradientThickness":29.5,"gradientStrokeColor":"#555","gradientStrokeWidth":1,"values":[-2,-1.5,-1],"labelFontSize":18,"labelOffset":9,"labelOverlap":false,"labelExpr":"''+datum.value"}}}},{"mark":{"type":"rect","opacity":0},"encoding":{"y":{"field":"r0","type":"quantitative","axis":{"orient":"right","labels":false,"title":"log₁₀(ρ / cm³)","titleFontSize":22,"titleAngle":270,"titleBaseline":"top","titlePadding":97,"values":[]}}}}],"resolve":{"axis":{"y":"independent"}}},{"width":1179,"height":126.5,"layer":[{"mark":{"type":"rect","stroke":"#111","strokeWidth":1,"strokeOpacity":0.85},"encoding":{"x":{"field":"l0","type":"quantitative","scale":{"domain":[0.42,17.28],"nice":false,"zero":false},"axis":{"values":[2,4,6,8,10,12,14,16],"labelFontSize":18,"labelPadding":15,"title":["L dist [kpc]"," "],"titleFontSize":17.5,"titlePadding":14,"titleLineHeight":14}},"x2":{"field":"l1"},"y":{"field":"r0","type":"quantitative","scale":{"domain":[0.15,2.1],"nice":false,"zero":false},"axis":{"values":[1,2],"labelFontSize":21,"labelPadding":8,"labelOffset":2.5,"title":"R dist [kpc]","titleFontSize":20,"titlePadding":4,"format":"d"}},"y2":{"field":"r1"},"color":{"field":"b","type":"quantitative","scale":{"domain":[0.01,0.05,0.1,0.14,0.19,0.24,0.28,0.33,0.37,0.41,0.44,0.47,0.5,0.53,0.56,0.58],"range":["#3a2a9e","#4038cc","#4050f5","#3572f8","#2a8ee8","#1aa6d8","#0ab5c8","#2cc0a0","#50c878","#85cc55","#b5c035","#dcb82c","#feb932","#fcd528","#f5e822","#fbfb0a"]},"legend":{"orient":"none","legendX":1192.5,"legendY":2,"title":null,"gradientLength":120,"gradientThickness":29.5,"gradientStrokeColor":"#555","gradientStrokeWidth":1,"values":[0.1,0.2,0.3,0.4,0.5],"labelFontSize":18,"labelOffset":9,"labelOverlap":false,"labelExpr":"''+datum.value"}}}},{"mark":{"type":"rect","opacity":0},"encoding":{"y":{"field":"r0","type":"quantitative","axis":{"orient":"right","labels":false,"title":"Neutral fraction","titleFontSize":21.5,"titleAngle":270,"titleBaseline":"top","titlePadding":87,"values":[]}}}}],"resolve":{"axis":{"y":"independent"}}},{"width":1179,"height":125,"layer":[{"mark":{"type":"rect","stroke":"#111","strokeWidth":1,"strokeOpacity":0.85},"encoding":{"x":{"field":"l0","type":"quantitative","scale":{"domain":[0.42,17.28],"nice":false,"zero":false},"axis":{"values":[2,4,6,8,10,12,14,16],"labelFontSize":18,"labelPadding":15,"title":"L dist [kpc]","titleFontSize":17.5,"titlePadding":9,"format":"d"}},"x2":{"field":"l1"},"y":{"field":"r0","type":"quantitative","scale":{"domain":[0.15,2.1],"nice":false,"zero":false},"axis":{"values":[1,2],"labelFontSize":21,"labelPadding":8,"labelOffset":2.5,"title":"R dist [kpc]","titleFontSize":20,"titlePadding":4,"format":"d"}},"y2":{"field":"r1"},"color":{"field":"t","type":"quantitative","scale":{"domain":[3.54,3.58,3.63,3.68,3.73,3.78,3.83,3.87,3.92,3.96,3.99,4.02,4.06,4.09,4.12,4.14],"range":["#3a2a9e","#4038cc","#4050f5","#3572f8","#2a8ee8","#1aa6d8","#0ab5c8","#2cc0a0","#50c878","#85cc55","#b5c035","#dcb82c","#feb932","#fcd528","#f5e822","#fbfb0a"]},"legend":{"orient":"none","legendX":1192.5,"legendY":3,"title":null,"gradientLength":118,"gradientThickness":29.5,"gradientStrokeColor":"#555","gradientStrokeWidth":1,"values":[3.6,3.8,4],"labelFontSize":18,"labelOffset":9,"labelOverlap":false,"labelExpr":"''+datum.value"}}}},{"mark":{"type":"rect","opacity":0},"encoding":{"y":{"field":"r0","type":"quantitative","axis":{"orient":"right","labels":false,"title":"log₁₀(T / K)","titleFontSize":22,"titleAngle":270,"titleBaseline":"top","titlePadding":89,"values":[]}}}},{"data":{"values":[{"note":"submitted, 2020 IEEE-TPAMI)","nx":-0.41,"ny":-0.864}]},"transform":[],"mark":{"type":"text","align":"left","baseline":"alphabetic","font":"Liberation Sans","fontSize":36.7,"color":"#000"},"encoding":{"x":{"field":"nx","type":"quantitative","scale":{"domain":[0.42,17.28],"nice":false,"zero":false}},"y":{"field":"ny","type":"quantitative","axis":null,"scale":{"domain":[0.15,2.1],"nice":false,"zero":false}},"text":{"field":"note"}}}],"resolve":{"axis":{"y":"independent"}}}]}
